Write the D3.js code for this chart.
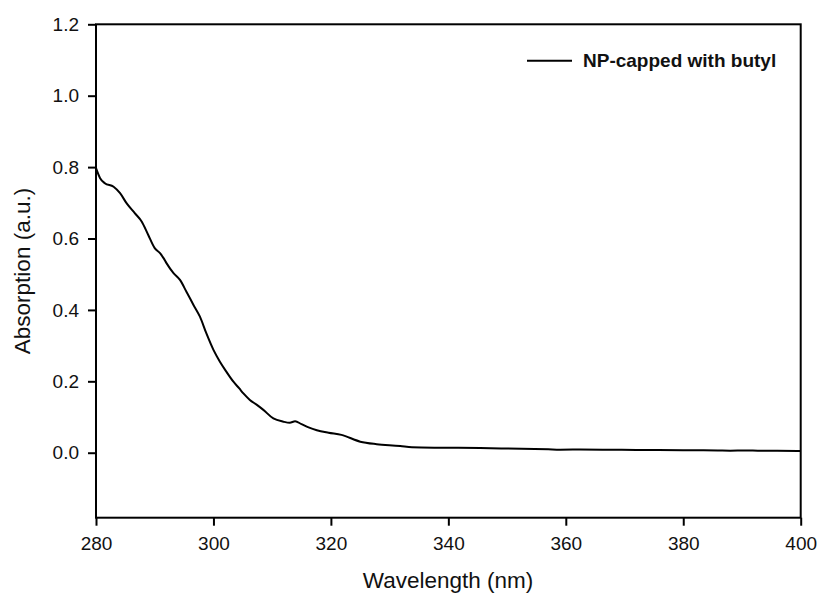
<!DOCTYPE html>
<html>
<head>
<meta charset="utf-8">
<script src="https://cdn.jsdelivr.net/npm/d3@7"></script>
<style>
  body { margin: 0; background: #fff; }
  svg { display: block; font-family: Arial, "Liberation Sans", sans-serif; }
</style>
</head>
<body>
<svg width="822" height="599"></svg>
<script>
// absorption spectrum
const wavelength = [280, 280.7, 281.5, 283, 284.1, 285.2, 286.6, 287.8, 288.9, 290, 290.9, 291.5,
  292, 293.2, 294.3, 295.4, 296.6, 297.7, 298.8, 300, 301.1, 302.2, 303.4, 304.4, 305.1, 306.2,
  307.4, 308.5, 310.2, 311.9, 313, 313.9, 315, 316.2, 317.6, 319.6, 321.8, 325, 327.8, 331.8,
  333.8, 339.4, 345.4, 349, 357, 359, 362.4, 367, 372, 380, 385.9, 388, 390.5, 392.7, 396, 400];
const absorption = [0.797, 0.769, 0.755, 0.745, 0.727, 0.699, 0.671, 0.647, 0.610, 0.573, 0.559, 0.545,
  0.531, 0.503, 0.484, 0.451, 0.414, 0.381, 0.334, 0.288, 0.255, 0.227, 0.199, 0.180, 0.166, 0.148,
  0.134, 0.120, 0.096, 0.087, 0.084, 0.088, 0.080, 0.071, 0.063, 0.056, 0.050, 0.031, 0.024, 0.019,
  0.015, 0.014, 0.013, 0.012, 0.0095, 0.0085, 0.009, 0.0085, 0.0078, 0.0072, 0.0062, 0.0058, 0.0062, 0.0058, 0.0055, 0.005];
const xTicks = [280, 300, 320, 340, 360, 380, 400];
const yTicks = [0.0, 0.2, 0.4, 0.6, 0.8, 1.0, 1.2];
const seriesName = "NP-capped with butyl";

const svg = d3.select('svg');
const plotLeft = 96, plotRight = 800.7, plotTop = 24.3, plotBottom = 517.7;

const x = d3.scaleLinear().domain([280, 400]).range([plotLeft, plotRight]);
const y = d3.scaleLinear().domain([-0.182, 1.2]).range([plotBottom, plotTop]);

// curve
const line = d3.line()
  .x((d, i) => x(wavelength[i]))
  .y(d => y(d))
  .curve(d3.curveMonotoneX);

svg.append('path')
  .datum(absorption)
  .attr('d', line)
  .attr('fill', 'none')
  .attr('stroke', '#000')
  .attr('stroke-width', 2);

// frame
svg.append('rect')
  .attr('x', plotLeft).attr('y', plotTop)
  .attr('width', plotRight - plotLeft).attr('height', plotBottom - plotTop)
  .attr('fill', 'none').attr('stroke', '#000').attr('stroke-width', 2);

// axes
const xAxis = svg.append('g')
  .attr('transform', `translate(0,${plotBottom})`)
  .call(d3.axisBottom(x).tickValues(xTicks).tickSize(8).tickPadding(11).tickFormat(d3.format('d')));
const yAxis = svg.append('g')
  .attr('transform', `translate(${plotLeft},0)`)
  .call(d3.axisLeft(y).tickValues(yTicks).tickSize(8).tickPadding(9).tickFormat(d3.format('.1f')));

[xAxis, yAxis].forEach(g => {
  g.select('.domain').remove();
  g.selectAll('line').attr('stroke', '#000').attr('stroke-width', 2);
  g.selectAll('text').attr('fill', '#111').style('font-size', '19px').style('font-family', 'Arial, "Liberation Sans", sans-serif');
});

// axis titles
svg.append('text')
  .attr('x', 448).attr('y', 588)
  .attr('text-anchor', 'middle')
  .style('font-size', '22.5px').attr('fill', '#111')
  .text('Wavelength (nm)');

svg.append('text')
  .attr('transform', `translate(30,271) rotate(-90)`)
  .attr('text-anchor', 'middle')
  .style('font-size', '22.5px').attr('fill', '#111')
  .text('Absorption (a.u.)');

// legend
svg.append('line')
  .attr('x1', 527).attr('x2', 572).attr('y1', 60.7).attr('y2', 60.7)
  .attr('stroke', '#000').attr('stroke-width', 2);
svg.append('text')
  .attr('x', 583).attr('y', 67)
  .style('font-size', '19px').style('font-weight', 'bold').attr('fill', '#111')
  .text(seriesName);
</script>
</body>
</html>
